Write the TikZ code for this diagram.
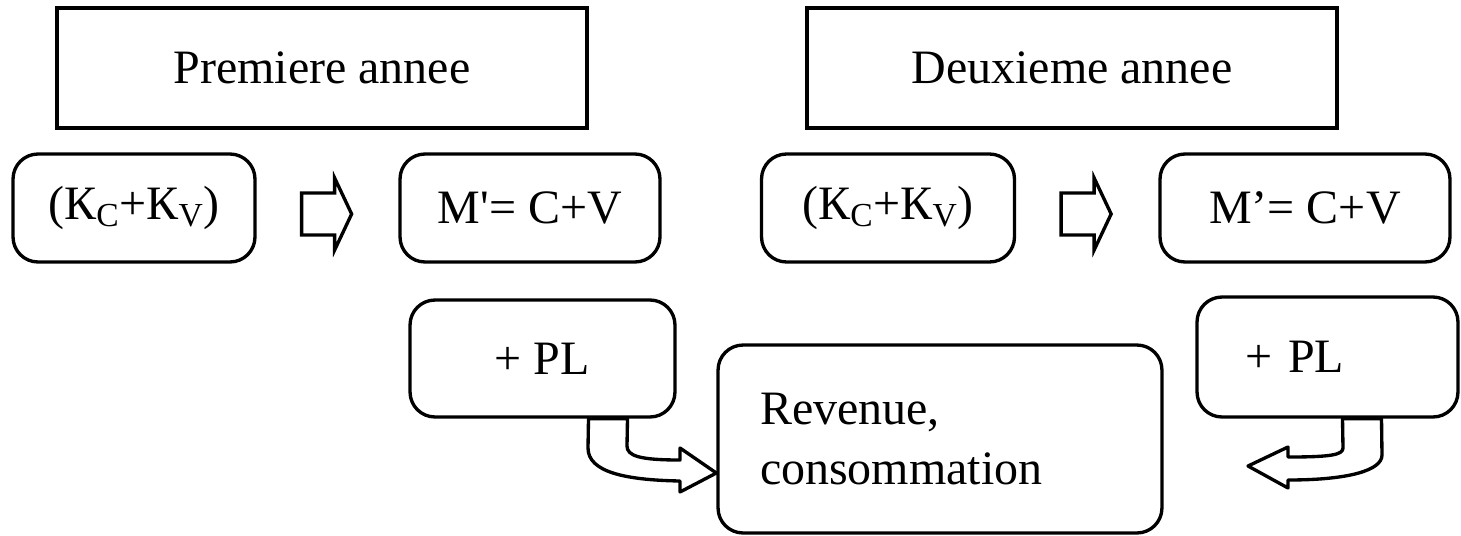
\documentclass[tikz,border=0pt]{standalone}
\usepackage{fontspec}
\setmainfont{Liberation Serif}
\newfontfamily\rawserif{Liberation Serif}
\usetikzlibrary{calc}
\tikzset{
  line/.style={line width=1.9pt,line join=round},
  head/.style={draw,line width=1.9pt,rectangle,minimum width=#1,minimum height=2.4cm,
    inner sep=0pt,align=center},
  rbox/.style={draw,line width=1.9pt,rectangle,rounded corners=0.5cm,
    minimum width=#1,inner sep=0pt,align=center},
}
\newcommand{\bigtxt}{\fontsize{27.3}{34}\selectfont}
\newcommand{\capK}[2]{К\textsubscript{#1}+К\textsubscript{#2}}
% block arrow to the right, starting at #1
\newcommand{\fatarrow}[1]{%
  \draw[line,line join=miter] #1 ++(0,-20) -- ++(33,0) -- ++(0,-15) -- ++(17,36)
    -- ++(-17,36) -- ++(0,-15) -- ++(-33,0) -- cycle;}

\begin{document}
\begin{tikzpicture}[x=0.02cm,y=-0.02cm,font=\bigtxt]
  \useasboundingbox (0,0) rectangle (1461,535);
  % years
  \node[head=10.6cm] (year1) at (322,68) {Premiere annee};
  \node[head=10.6cm] (year2) at (1072,68) {Deuxieme annee};
  % first row
  \node[rbox=4.84cm,minimum height=2.16cm] (cap1) at (134,208) {(\capK{C}{V})};
  \node[rbox=5.2cm,minimum height=2.16cm] (prod1) at (530,208) {M{\rawserif'}= C+V};
  \node[rbox=5.06cm,minimum height=2.16cm] (cap2) at (888,208) {(\capK{C}{V})};
  \node[rbox=5.8cm,minimum height=2.16cm] (prod2) at (1305,208) {M’= C+V};
  \coordinate (go1) at ($(cap1.east)+(45,5)$);
  \coordinate (go2) at ($(cap2.east)+(45,5)$);
  \fatarrow{(go1)}
  \fatarrow{(go2)}
  % surplus
  \node[rbox=5.3cm,minimum height=2.34cm] (pl1) at (542.5,358.5) {+ PL};
  \node[rbox=5.22cm,minimum height=2.4cm,text width=3.3cm,align=left] (pl2) at (1327.5,357) {+ PL};
  \node[rbox=8.88cm,minimum height=3.76cm,text width=7.2cm,align=left] (rev) at (940,439)
    {Revenue,\\consommation};
  % bent arrows
  \draw[line] ($(pl1.south)+(46,0)$) -- (588,448) .. controls (588,472) and (625,480) .. (680,481)
    -- (680,492) -- ($(rev.west)+(0,34)$) -- (680,448) -- (680,460)
    .. controls (640,460) and (627,456) .. (627,446) -- ($(pl1.south)+(85,0)$) -- cycle;
  \draw[line] ($(pl2.south)+(15,0)$) -- (1343,448) .. controls (1343,455) and (1330,457) .. (1288,457)
    -- (1288,447) -- (1248,466) -- (1288,488) -- (1288,480)
    .. controls (1350,480) and (1382,470) .. (1382,455) -- ($(pl2.south)+(54,0)$) -- cycle;
\end{tikzpicture}
\end{document}
